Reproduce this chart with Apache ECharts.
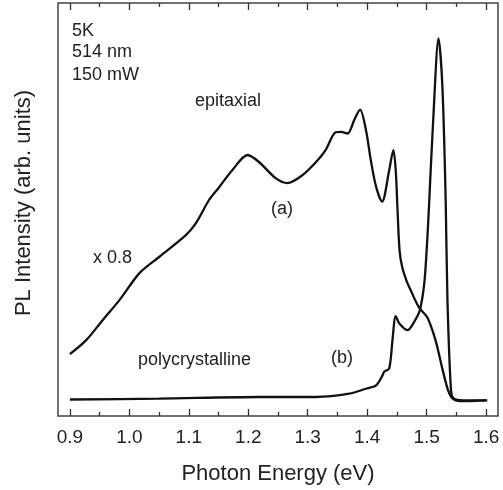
<!DOCTYPE html>
<html>
<head>
<meta charset="utf-8">
<script src="https://cdn.jsdelivr.net/npm/echarts@6/dist/echarts.min.js"></script>
<style>html,body{margin:0;padding:0;background:#fff}#c{width:503px;height:490px}</style>
</head>
<body>
<div id="c"></div>
<script>
// (a) epitaxial (x 0.8)
const energyA = [0.900,0.927,0.955,0.983,1.017,1.050,1.095,1.112,1.134,1.151,1.173,1.199,1.218,1.246,1.266,1.291,1.314,1.330,1.347,1.356,1.367,1.378,1.388,1.398,1.406,1.415,1.425,1.437,1.444,1.448,1.451,1.4545,1.459,1.466,1.473,1.487,1.501,1.515,1.527,1.538,1.549,1.570,1.600];
const intensityA = [15.0,18.3,23.2,28.0,34.6,38.5,43.8,46.7,52.3,55.4,59.5,63.2,61.5,57.6,56.4,58.3,61.5,64.4,68.7,68.8,68.4,71.6,74.2,69.2,62.0,55.5,51.9,59.5,64.4,59.5,50.0,40.0,36.0,32.8,30.5,26.3,23.9,18.3,11.1,5.5,3.8,3.6,3.8];
// (b) polycrystalline
const energyB = [0.900,1.050,1.218,1.314,1.370,1.398,1.415,1.426,1.4285,1.437,1.4425,1.448,1.454,1.468,1.479,1.4885,1.496,1.501,1.504,1.511,1.520,1.5265,1.532,1.535,1.541,1.546,1.570,1.602];
const intensityB = [4.0,4.2,4.6,4.6,5.4,6.6,7.4,9.9,10.7,11.5,18.3,24.2,22.4,20.8,22.8,25.6,32.1,42.6,51.0,71.6,91.4,79.7,52.3,28.0,6.2,4.2,3.8,3.8];

const majorTicks = [0.9,1.0,1.1,1.2,1.3,1.4,1.5,1.6];
const minorTicks = [0.95,1.05,1.15,1.25,1.35,1.45,1.55];

const FONT = '"Liberation Sans", Arial, sans-serif';
const chart = echarts.init(document.getElementById('c'), null, {renderer:'canvas'});

function xAx(pos, ticks, len, labels) {
  return {
    type:'value', min:0.88, max:1.62, position:pos, gridIndex:0,
    axisLine:{show:false}, splitLine:{show:false},
    axisTick:{show:true, inside:true, length:len, customValues:ticks, lineStyle:{color:'#333', width:1.3}},
    axisLabel: labels ? {show:true, customValues:ticks, formatter:v=>Number(v).toFixed(1), fontSize:19, fontFamily:FONT, color:'#222', margin:12}
                      : {show:false}
  };
}
const xa0 = xAx('bottom', majorTicks, 7, true);
xa0.name = 'Photon Energy (eV)';
xa0.nameLocation = 'middle';
xa0.nameGap = 47;
xa0.nameTextStyle = {fontSize:22, fontFamily:FONT, color:'#222'};

function txt(t, x, y, size) {
  return {type:'text', x:x, y:y, style:{text:t, font:size+'px '+FONT, fill:'#222', align:'left', verticalAlign:'middle'}};
}

chart.setOption({
  animation:false,
  backgroundColor:'#fff',
  grid:{left:58, top:3, width:440, height:413, show:true, borderColor:'#444', borderWidth:1.5, backgroundColor:'transparent'},
  xAxis:[xa0, xAx('bottom', minorTicks, 4, false), xAx('top', majorTicks, 7, false), xAx('top', minorTicks, 4, false)],
  yAxis:{type:'value', min:0, max:100, axisLine:{show:false}, axisTick:{show:false}, axisLabel:{show:false}, splitLine:{show:false}},
  series:[
    {type:'line', name:'epitaxial', data:energyA.map((e,i)=>[e,intensityA[i]]), showSymbol:false, smooth:0.3, lineStyle:{color:'#111', width:2.3}},
    {type:'line', name:'polycrystalline', data:energyB.map((e,i)=>[e,intensityB[i]]), showSymbol:false, smooth:0.3, lineStyle:{color:'#111', width:2.3}}
  ],
  graphic:[
    txt('5K', 72, 31, 18),
    txt('514 nm', 72, 52, 18),
    txt('150 mW', 72, 75, 18),
    txt('epitaxial', 195, 101, 18),
    txt('(a)', 271, 209, 18),
    txt('x 0.8', 93, 258, 18),
    txt('polycrystalline', 138, 360, 18),
    txt('(b)', 331, 358, 18),
    {type:'text', x:24, y:203, rotation:Math.PI/2, style:{text:'PL Intensity (arb. units)', font:'22px '+FONT, fill:'#222', align:'center', verticalAlign:'middle'}}
  ]
});
</script>
</body>
</html>
